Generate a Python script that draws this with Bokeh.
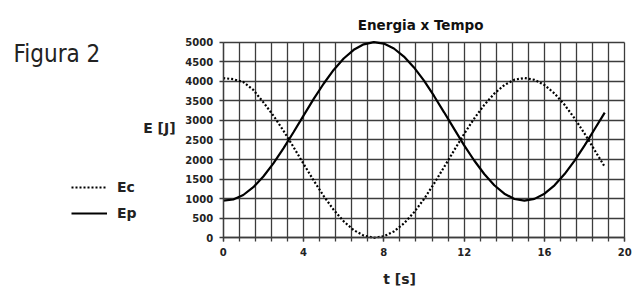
from bokeh.plotting import figure
from bokeh.models import FixedTicker, Label, Legend, LegendItem, Grid
from bokeh.embed import file_html
from bokeh.resources import INLINE

# ---- data ----
t = [0, 0.5, 1, 1.5, 2, 2.5, 3, 3.5, 4, 4.5, 5, 5.5, 6, 6.5, 7, 7.5, 8, 8.5, 9, 9.5,
     10, 10.5, 11, 11.5, 12, 12.5, 13, 13.5, 14, 14.5, 15, 15.5, 16, 16.5, 17, 17.5,
     18, 18.5, 19]
ep = [952, 979, 1094, 1293, 1566, 1901, 2286, 2698, 3124, 3544, 3938, 4290, 4583,
      4805, 4946, 5000, 4964, 4839, 4634, 4355, 4018, 3626, 3208, 2784, 2364, 1976,
      1631, 1344, 1128, 992, 950, 995, 1127, 1342, 1629, 1974, 2361, 2781, 3201]
ec = [4082, 4055, 3981, 3780, 3463, 3125, 2737, 2321, 1892, 1469, 1071, 716, 420,
      196, 55, 0, 37, 162, 369, 650, 990, 1386, 1807, 2235, 2658, 3049, 3397, 3687,
      3904, 4042, 4084, 4039, 3905, 3689, 3399, 3052, 2661, 2237, 1815]

x_ticks = [0, 4, 8, 12, 16, 20]
x_grid = [round(0.8 * i, 2) for i in range(26)]
y_ticks = [0, 500, 1000, 1500, 2000, 2500, 3000, 3500, 4000, 4500, 5000]
x_lim = (0, 20)
y_lim = (0, 5000)

title_text = "Energia x Tempo"
fig_text = "Figura 2"
x_label = "t [s]"
y_label = "E [J]"
leg_ec = "Ec"
leg_ep = "Ep"

GRID = "#3c3c3c"
FONT = "DejaVu Sans"
W, H = 644, 286

# the frame spans the whole canvas; the chart area is x 0..20, y 0..5000
p = figure(width=W, height=H, x_range=(-11.09, 20.98), y_range=(-1245, 6066),
           output_backend="svg", toolbar_location=None,
           min_border_left=0, min_border_right=0, min_border_top=0,
           min_border_bottom=0)
p.background_fill_color = "white"
p.border_fill_color = "white"
p.outline_line_color = None

# axes, pinned to the chart's origin
p.xaxis.ticker = FixedTicker(ticks=x_ticks, minor_ticks=x_grid)
p.yaxis.ticker = FixedTicker(ticks=y_ticks)
p.xaxis.fixed_location = 0
p.yaxis.fixed_location = 0
p.xaxis.bounds = x_lim
p.yaxis.bounds = y_lim
for ax in (p.xaxis, p.yaxis):
    ax.axis_line_color = GRID
    ax.axis_line_width = 1.3
    ax.major_tick_line_color = GRID
    ax.major_tick_line_width = 1.3
    ax.major_tick_out = 4
    ax.major_tick_in = 0
    ax.minor_tick_line_color = GRID
    ax.minor_tick_line_width = 1.3
    ax.minor_tick_out = 4
    ax.minor_tick_in = 0
    ax.major_label_text_font = FONT
    ax.major_label_text_font_style = "bold"
    ax.major_label_text_font_size = "10px"
    ax.major_label_text_color = "#222222"
p.xaxis.major_label_standoff = 6
p.yaxis.major_label_standoff = 6

# grid, limited to the chart area
p.xgrid.ticker = FixedTicker(ticks=x_grid)
p.ygrid.ticker = FixedTicker(ticks=y_ticks)
has_cross = "cross_bounds" in Grid.properties()
p.xgrid.bounds = x_lim
p.ygrid.bounds = y_lim
if has_cross:
    p.xgrid.cross_bounds = y_lim
    p.ygrid.cross_bounds = x_lim
for g in (p.xgrid, p.ygrid):
    g.grid_line_color = GRID
    g.grid_line_width = 1.3
    g.grid_line_alpha = 1.0

# series
r_ep = p.line(t, ep, line_color="black", line_width=2.2)
r_ec = p.line(t, ec, line_color="black", line_width=2.2, line_dash="2 2")

# legend (left of the chart)
legend = Legend(items=[LegendItem(label=leg_ec, renderers=[r_ec]),
                       LegendItem(label=leg_ep, renderers=[r_ep])],
                location=(71, 63), orientation="vertical",
                glyph_width=36, glyph_height=20, label_height=20,
                label_standoff=10, spacing=6, padding=0, margin=0,
                border_line_color=None, background_fill_alpha=0,
                label_text_font=FONT, label_text_font_style="bold",
                label_text_font_size="14px", label_text_color="#222222")
p.add_layout(legend)


def lab(x, y, text, **kw):
    opts = dict(text_font=FONT, text_font_style="bold", text_font_size="14px",
                text_align="left", text_baseline="middle", text_color="#222222")
    opts.update(kw)
    p.add_layout(Label(x=x, y=y, text=text, **opts))


lab(9.83, 5452, title_text, text_font_size="13.5px", text_align="center", text_color="#111111")
lab(-10.44, 4711, fig_text, text_font="DejaVu Sans Condensed", text_font_style="normal",
    text_font_size="24px", text_baseline="alphabetic")
lab(-2.37, 2794, y_label, text_align="right")
lab(8.78, -1066, x_label, text_align="center")

open("out.html", "w").write(file_html(p, INLINE))
